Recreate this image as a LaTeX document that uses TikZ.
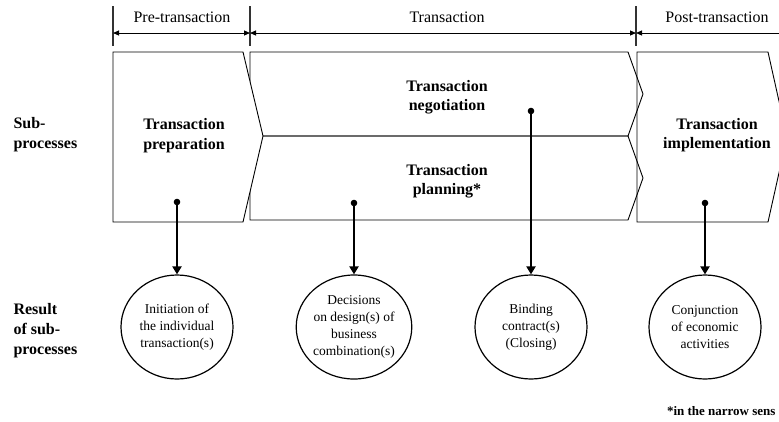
\documentclass[tikz,border=0pt]{standalone}
\usepackage{fontspec}
\setmainfont{Liberation Serif}
\usetikzlibrary{arrows.meta,shapes.geometric}
\begin{document}
\begin{tikzpicture}[x=1pt,y=-1pt,
	phase/.style={font=\fontsize{16}{19}\selectfont},
	rowlabel/.style={font=\fontsize{16}{20}\selectfont\bfseries,align=left,anchor=west},
	blocklabel/.style={font=\fontsize{16}{19.5}\selectfont\bfseries,align=center},
	result/.style={draw,line width=1.2pt,ellipse,minimum width=112pt,minimum height=104pt,inner sep=0pt,
		align=center,font=\fontsize{13.5}{17}\selectfont},
	block/.style={line width=0.9pt,line join=miter},
	link/.style={line width=2pt,-{Triangle[width=9pt,length=8pt]}},
	span/.style={line width=1pt,{Triangle[width=5pt,length=6pt]}-{Triangle[width=5pt,length=6pt]}},
	tick/.style={line width=1.3pt,black!80}]
	\useasboundingbox (0,0) rectangle (779,421);
	\node [coordinate] (T1) at (113,33) {};
	\node [coordinate] (T2) at (250,33) {};
	\node [coordinate] (T3) at (636,33) {};
	\node [coordinate] (T4) at (800,33) {};
	\draw [tick] (113,6) -- (113,46);
	\draw [tick] (250,6) -- (250,46);
	\draw [tick] (636,6) -- (636,46);
	\draw [span] (T1) -- (T2);
	\draw [span] (T2) -- (T3);
	\draw [span] (T3) -- (T4);
	\node [phase] (pre) at (182,17) {Pre-transaction};
	\node [phase] (trans) at (447,17) {Transaction};
	\node [phase] (post) at (717,17) {Post-transaction};
	\draw [block] (250,52) -- (628,52) -- (643,94) -- (628,136) -- (250,136) -- cycle;
	\draw [block] (250,136) -- (628,136) -- (643,178) -- (628,220) -- (250,220) -- cycle;
	\draw [block] (637,52) -- (768,52) -- (787,137) -- (768,222) -- (637,222) -- cycle;
	\draw [block,fill=white] (113,52) -- (243,52) -- (263,136) -- (243,222) -- (113,222) -- cycle;
	\node [rowlabel] (subproc) at (10,135) {Sub-\\processes};
	\node [rowlabel] (resproc) at (10,331) {Result\\of sub-\\processes};
	\node [blocklabel] (prep) at (184,135.5) {Transaction\\preparation};
	\node [blocklabel] (nego) at (447,97) {Transaction\\negotiation};
	\node [blocklabel] (plan) at (447,181) {Transaction\\planning*};
	\node [blocklabel] (impl) at (717,135) {Transaction\\implementation};
	\node [result] (initres) at (177,327) {Initiation of\\the individual\\transaction(s)};
	\node [result] (desres) at (354,327) {Decisions\\on design(s) of\\business\\combination(s)};
	\node [result] (bindres) at (531,327) {Binding\\contract(s)\\(Closing)};
	\node [result] (conjres) at (705,327) {Conjunction\\of economic\\activities};
	\node [coordinate] (prepdot) at (177,202) {};
	\node [coordinate] (plandot) at (354,203) {};
	\node [coordinate] (negodot) at (531,111) {};
	\node [coordinate] (impldot) at (705,203) {};
	\foreach \d in {prepdot,plandot,negodot,impldot}
		\fill (\d) circle (3.3);
	\draw [link] (prepdot) -- (initres.north);
	\draw [link] (plandot) -- (desres.north);
	\draw [link] (negodot) -- (bindres.north);
	\draw [link] (impldot) -- (conjres.north);
	\node [anchor=east,font=\fontsize{13}{15}\selectfont\bfseries] (note) at (779,411) {*in the narrow sens};
\end{tikzpicture}
\end{document}
